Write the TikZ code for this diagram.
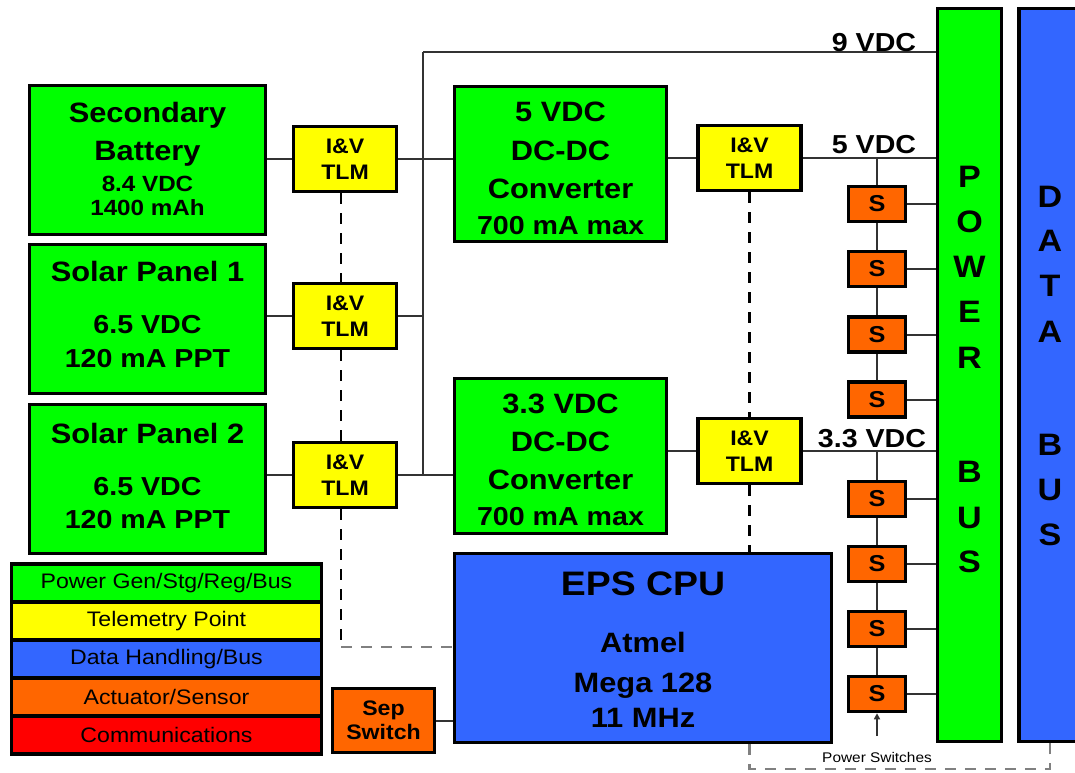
\documentclass[tikz,border=0pt]{standalone}
\usepackage{fontspec}
\setmainfont{Liberation Sans}[FakeStretch=1.1]
\usetikzlibrary{arrows.meta,calc,backgrounds}
\definecolor{cgreen}{HTML}{00FF00}
\definecolor{cyellow}{HTML}{FFFF00}
\definecolor{cblue}{HTML}{3366FF}
\definecolor{corange}{HTML}{FF6600}
\definecolor{cred}{HTML}{FF0000}
\definecolor{cwire}{HTML}{333333}
\definecolor{cdash}{HTML}{808080}
\newcommand\fsz[2]{\fontsize{#1}{#2}\selectfont}
\begin{document}
\begin{tikzpicture}[x=1pt,y=-1pt,
 box/.style={draw=black,line width=3.5pt,inner sep=0pt,align=center,text=black},
 greenbox/.style={box,fill=cgreen},
 tlmbox/.style={box,fill=cyellow,minimum width=103pt,minimum height=65pt,font=\bfseries\fsz{21}{26}},
 sbox/.style={box,fill=corange,minimum width=57pt,minimum height=35pt,font=\bfseries\fsz{23}{26}},
 legrow/.style={box,minimum width=310pt,minimum height=38pt,font=\fsz{21}{24}},
 txt/.style={anchor=base,inner sep=0pt},
 bigtxt/.style={txt,font=\bfseries\fsz{28}{34}},
 midtxt/.style={txt,font=\bfseries\fsz{26}{32}},
 smalltxt/.style={txt,font=\bfseries\fsz{22}{26}},
 bustxt/.style={txt,font=\bfseries\fsz{31}{36}},
 wire/.style={draw=cwire,line width=2pt},
 tdash/.style={draw=black,line width=2.5pt,dash pattern=on 11pt off 9pt},
 gdash/.style={draw=cdash,line width=2.5pt,dash pattern=on 11pt off 9pt},
]
\useasboundingbox (0,0) rectangle (1075,772);
\clip (0,0) rectangle (1075,772);

% green boxes
\node[greenbox,minimum width=236pt,minimum height=149pt] (bat) at (147.5,160) {};
\node[greenbox,minimum width=236pt,minimum height=149pt] (sp1) at (147.5,319) {};
\node[greenbox,minimum width=236pt,minimum height=149pt] (sp2) at (147.5,479) {};
\node[greenbox,minimum width=212pt,minimum height=155pt] (c5) at (560.5,164) {};
\node[greenbox,minimum width=212pt,minimum height=155pt] (c33) at (560.5,456) {};

% telemetry boxes
\node[tlmbox] (tlm1) at (345,159) {I\&V\\TLM};
\node[tlmbox] (tlm2) at (345,316) {I\&V\\TLM};
\node[tlmbox] (tlm3) at (345,475) {I\&V\\TLM};
\node[tlmbox] (tlm4) at (749.5,158) {I\&V\\TLM};
\node[tlmbox] (tlm5) at (749.5,451) {I\&V\\TLM};

% buses and CPU
\node[box,fill=cgreen,minimum width=64pt,minimum height=733pt] (pbus) at (969.5,375) {};
\node[box,fill=cblue,minimum width=62pt,minimum height=733pt] (dbus) at (1050,375) {};
\node[box,fill=cblue,minimum width=377pt,minimum height=189pt] (cpu) at (643,648) {};
\node[box,fill=corange,minimum width=102pt,minimum height=64pt,font=\bfseries\fsz{21}{24}] (sep) at (383.5,720.5) {Sep\\Switch};

% switches
\node[sbox] (s1) at (877,204) {S};
\node[sbox] (s2) at (877,269) {S};
\node[sbox] (s3) at (877,334.5) {S};
\node[sbox] (s4) at (877,399.5) {S};
\node[sbox] (s5) at (877,499) {S};
\node[sbox] (s6) at (877,564) {S};
\node[sbox] (s7) at (877,629) {S};
\node[sbox] (s8) at (877,694) {S};

% legend
\node[legrow,fill=cgreen] (lg1) at (166.5,583) {Power Gen/Stg/Reg/Bus};
\node[legrow,fill=cyellow] (lg2) at (166.5,621) {Telemetry Point};
\node[legrow,fill=cblue] (lg3) at (166.5,659) {Data Handling/Bus};
\node[legrow,fill=corange] (lg4) at (166.5,697) {Actuator/Sensor};
\node[legrow,fill=cred] (lg5) at (166.5,735) {Communications};

% texts in boxes
\node[bigtxt] (tb1) at (147.5,122) {Secondary};
\node[bigtxt] (tb2) at (147.5,160) {Battery};
\node[smalltxt] (tb3) at (147.5,191) {8.4 VDC};
\node[smalltxt] (tb4) at (147.5,215) {1400 mAh};
\node[bigtxt] (tp11) at (147.5,281) {Solar Panel 1};
\node[midtxt] (tp12) at (147.5,333) {6.5 VDC};
\node[midtxt] (tp13) at (147.5,367) {120 mA PPT};
\node[bigtxt] (tp21) at (147.5,443) {Solar Panel 2};
\node[midtxt] (tp22) at (147.5,495) {6.5 VDC};
\node[midtxt] (tp23) at (147.5,528) {120 mA PPT};
\node[bigtxt] (tc51) at (560.5,121) {5 VDC};
\node[bigtxt] (tc52) at (560.5,160) {DC-DC};
\node[bigtxt] (tc53) at (560.5,198) {Converter};
\node[midtxt] (tc54) at (560.5,234) {700 mA max};
\node[bigtxt] (tc31) at (560.5,413) {3.3 VDC};
\node[bigtxt] (tc32) at (560.5,451) {DC-DC};
\node[bigtxt] (tc33) at (560.5,489) {Converter};
\node[midtxt] (tc34) at (560.5,525) {700 mA max};
\node[txt,font=\bfseries\fsz{34}{40}] (tcpu1) at (643,595) {EPS CPU};
\node[bigtxt] (tcpu2) at (643,652) {Atmel};
\node[bigtxt] (tcpu3) at (643,692) {Mega 128};
\node[bigtxt] (tcpu4) at (643,727) {11 MHz};

% voltage labels
\node[midtxt] (v9) at (874,51) {9 VDC};
\node[midtxt] (v5) at (874,153) {5 VDC};
\node[midtxt] (v33) at (872,447) {3.3 VDC};
\node[txt,font=\fsz{14}{16}] (psw) at (877,762) {Power Switches};

% bus letters
\foreach \l/\y [count=\i] in {P/187,O/232,W/277,E/322,R/368,B/482,U/528,S/572}
  \node[bustxt] (pb\i) at (969.5,\y) {\l};
\foreach \l/\y [count=\i] in {D/207,A/251,T/296,A/342,B/455,U/500,S/545}
  \node[bustxt] (db\i) at (1050,\y) {\l};

% connectors
\begin{scope}[on background layer]
\coordinate (jtop) at (423,52);
\draw[wire] (jtop) -- (jtop -| pbus.west);
\draw[wire] (jtop) -- (jtop |- tlm3.east);
\draw[wire] (bat.east |- tlm1.west) -- (tlm1.west);
\draw[wire] (tlm1.east) -- (tlm1.east -| c5.west);
\draw[wire] (sp1.east |- tlm2.west) -- (tlm2.west);
\draw[wire] (tlm2.east) -- (tlm2.east -| jtop);
\draw[wire] (sp2.east |- tlm3.west) -- (tlm3.west);
\draw[wire] (tlm3.east) -- (tlm3.east -| c33.west);
\draw[wire] (c5.east |- tlm4.west) -- (tlm4.west);
\draw[wire] (tlm4.east) -- (tlm4.east -| pbus.west);
\draw[wire] (c33.east |- tlm5.west) -- (tlm5.west);
\draw[wire] (tlm5.east) -- (tlm5.east -| pbus.west);
\draw[wire] (s1 |- tlm4.east) -- (s1.north);
\draw[wire] (s1.south) -- (s2.north);
\draw[wire] (s2.south) -- (s3.north);
\draw[wire] (s3.south) -- (s4.north);
\draw[wire] (s5 |- tlm5.east) -- (s5.north);
\draw[wire] (s5.south) -- (s6.north);
\draw[wire] (s6.south) -- (s7.north);
\draw[wire] (s7.south) -- (s8.north);
\foreach \i in {1,...,8}
  \draw[wire] (s\i.east) -- (s\i.east -| pbus.west);
\draw[wire] (sep.east) -- (sep.east -| cpu.west);
\end{scope}

% telemetry dashed lines
\draw[tdash] ($(tlm1.south)+(-4,0)$) -- ($(tlm2.north)+(-4,0)$);
\draw[tdash] ($(tlm2.south)+(-4,0)$) -- ($(tlm3.north)+(-4,0)$);
\coordinate (dc) at (341,647);
\draw[tdash] ($(tlm3.south)+(-4,0)$) -- (dc);
\draw[gdash] (dc) -- (dc -| cpu.west);
\draw[tdash] (tlm4.south) -- (tlm5.north);
\draw[tdash] (tlm5.south) -- (tlm5.south |- cpu.north);
\coordinate (db) at (749.5,769);
\draw[gdash] (cpu.south -| db) -- (db) -- (db -| dbus.south) -- (dbus.south);

% power switches arrow
\coordinate (arr) at (877,736);
\draw[draw=cwire,line width=1.5pt,-{Triangle[length=6pt,width=6pt]}] (arr) -- (s8.south);
\end{tikzpicture}
\end{document}
